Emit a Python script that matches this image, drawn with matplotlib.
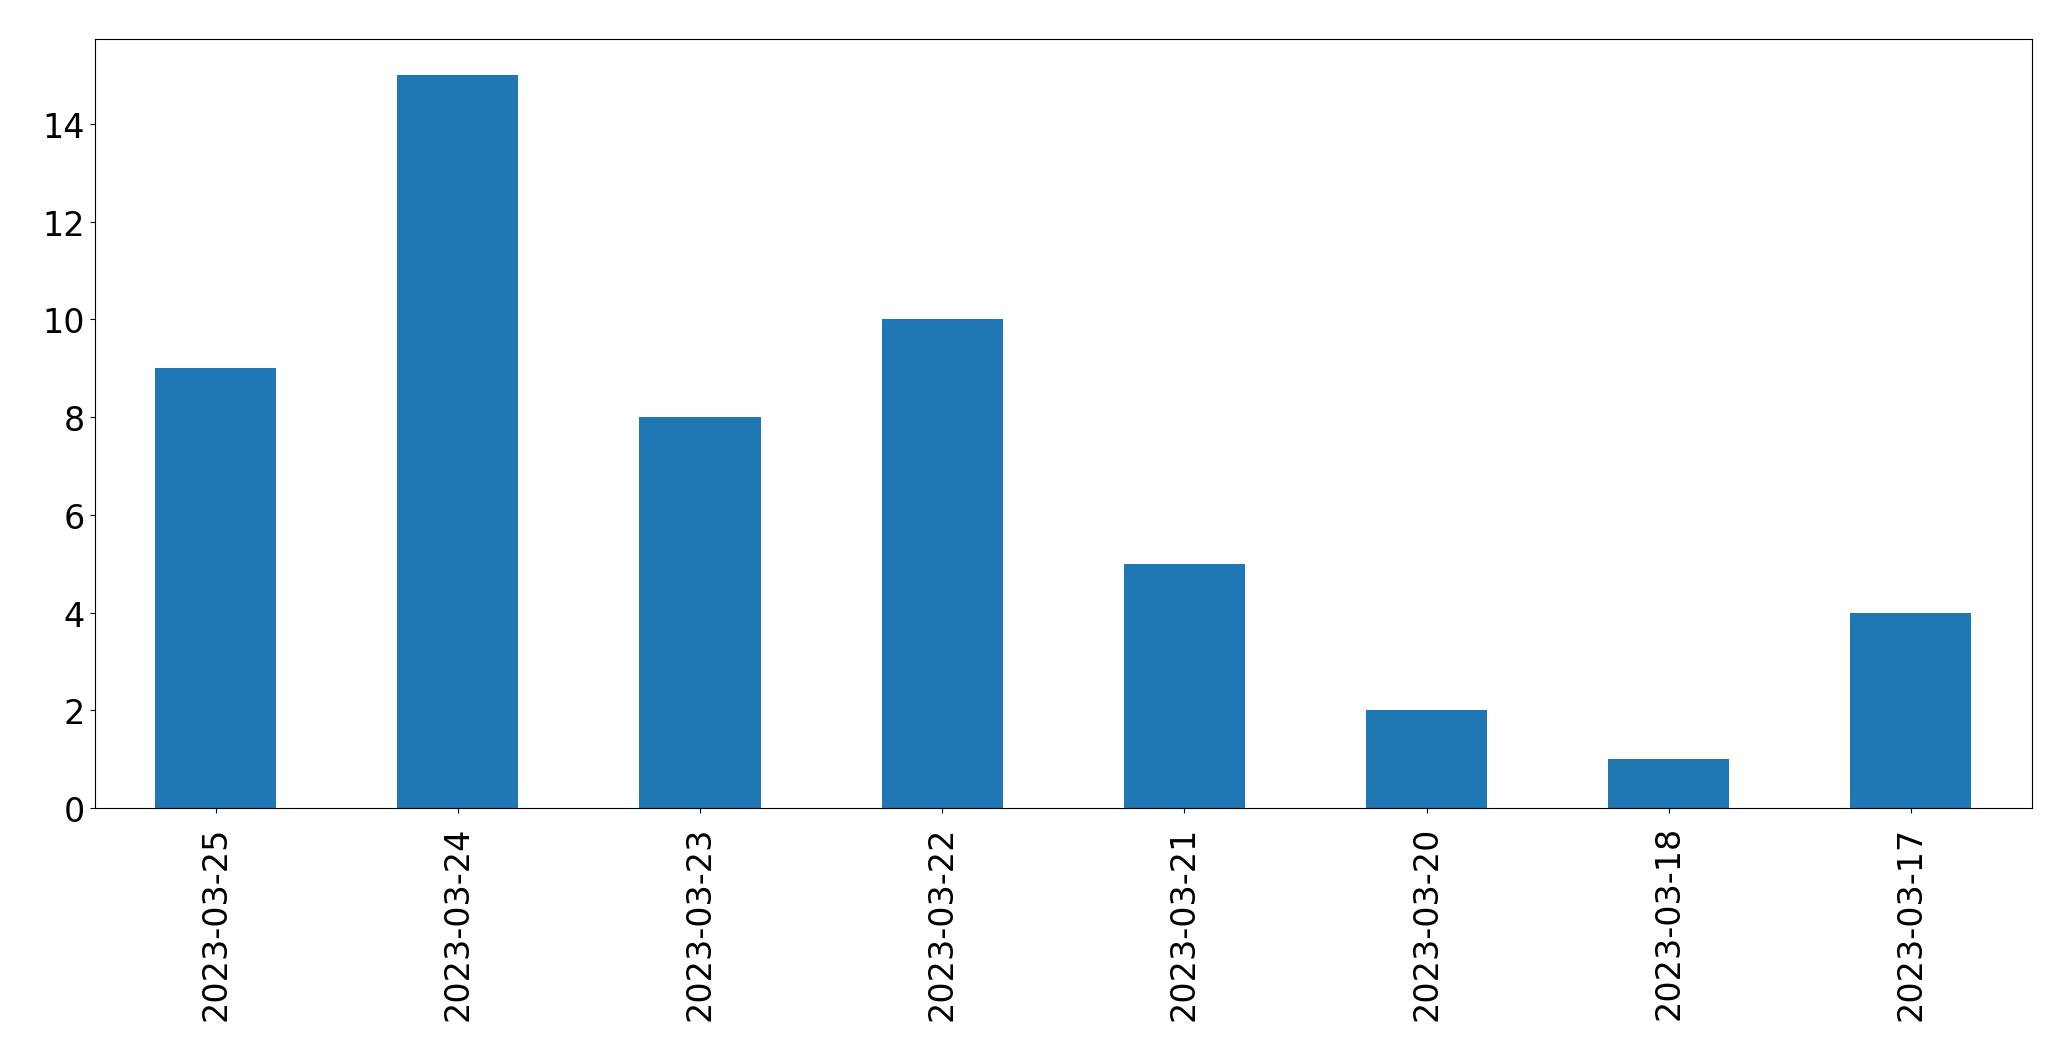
import matplotlib
matplotlib.use("Agg")
import matplotlib.pyplot as plt

dates = ["2023-03-25", "2023-03-24", "2023-03-23", "2023-03-22",
         "2023-03-21", "2023-03-20", "2023-03-18", "2023-03-17"]
counts = [9, 15, 8, 10, 5, 2, 1, 4]

fig = plt.figure(figsize=(20.71, 10.6099), dpi=100)
ax = fig.add_axes([94.5 / 2071, 1 - 809 / 1061, (2032 - 94.5) / 2071, (809 - 39.5) / 1061])

x = range(len(dates))
ax.bar(x, counts, width=0.5, color="#1f77b4")
ax.set_xlim(-0.5, len(dates) - 0.5)
ax.set_xticks(list(x))
ax.set_xticklabels(dates, rotation=90)
ax.tick_params(labelsize=24)
ax.tick_params(axis="x", pad=9)

fig.savefig("out.png", dpi=100)
